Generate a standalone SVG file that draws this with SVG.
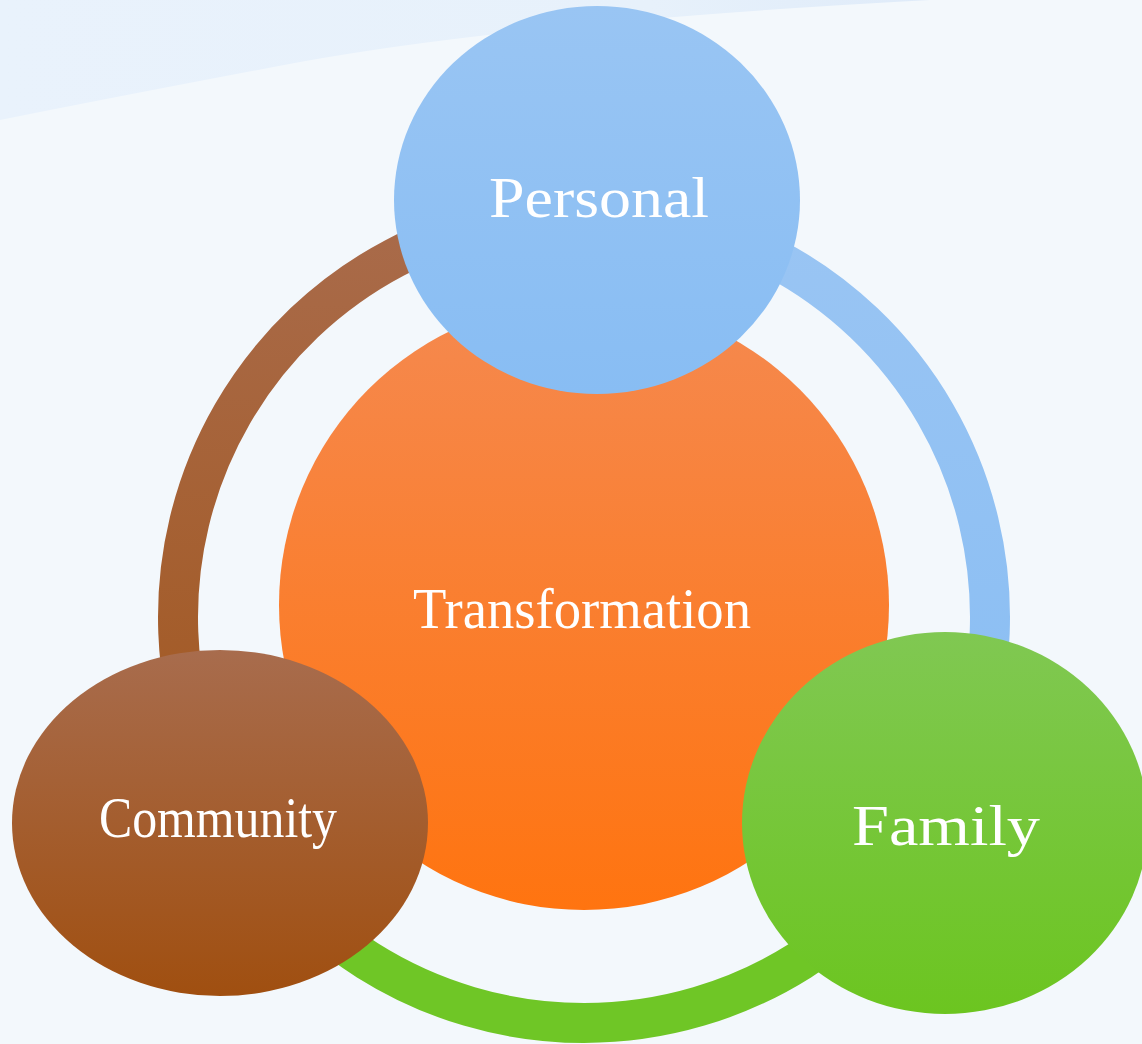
<svg xmlns="http://www.w3.org/2000/svg" width="1142" height="1044" viewBox="0 0 1142 1044">
  <defs>
    <linearGradient id="gBand" x1="0" y1="0" x2="1" y2="0">
      <stop offset="0" stop-color="#e9f2fc"/>
      <stop offset="0.7" stop-color="#e7f1fb"/>
      <stop offset="1" stop-color="#dfebf9"/>
    </linearGradient>
    <linearGradient id="gBlue" x1="0" y1="0" x2="0" y2="1">
      <stop offset="0" stop-color="#99c5f3"/>
      <stop offset="1" stop-color="#88bdf3"/>
    </linearGradient>
    <linearGradient id="gOrange" x1="0" y1="0" x2="0" y2="1">
      <stop offset="0" stop-color="#f5894f"/>
      <stop offset="1" stop-color="#ff7410"/>
    </linearGradient>
    <linearGradient id="gBrown" x1="0" y1="0" x2="0" y2="1">
      <stop offset="0" stop-color="#a86c4d"/>
      <stop offset="1" stop-color="#a04f10"/>
    </linearGradient>
    <linearGradient id="gGreen" x1="0" y1="0" x2="0" y2="1">
      <stop offset="0" stop-color="#80c852"/>
      <stop offset="1" stop-color="#6cc520"/>
    </linearGradient>
    <linearGradient id="gRingBrown" gradientUnits="userSpaceOnUse" x1="0" y1="210" x2="0" y2="830">
      <stop offset="0" stop-color="#a96b4b"/>
      <stop offset="1" stop-color="#a2571d"/>
    </linearGradient>
    <linearGradient id="gRingBlue" gradientUnits="userSpaceOnUse" x1="0" y1="210" x2="0" y2="830">
      <stop offset="0" stop-color="#9ac5f3"/>
      <stop offset="1" stop-color="#88bdf3"/>
    </linearGradient>
    <style>
      .ring { fill: none; stroke-width: 40; stroke-linecap: butt; }
      .label { font-family: "Liberation Serif", "DejaVu Serif", serif; font-size: 56px; fill: #ffffff; text-anchor: middle; }
    </style>
  </defs>

  <!-- page background with a pale diagonal band across the top-left -->
  <rect x="0" y="0" width="1142" height="1044" fill="#f3f8fc"/>
  <path d="M0,0 L930,0 Q520,22 300,62 Q130,94 0,120 Z" fill="url(#gBand)"/>

  <!-- ring segments joining the outer nodes -->
  <g id="connectors">
    <path class="ring" stroke="url(#gRingBrown)" d="M232.4,820 A406,406 0 0 1 584,211"/>
    <path class="ring" stroke="url(#gRingBlue)" d="M584,211 A406,406 0 0 1 935.6,820"/>
    <path class="ring" stroke="#6fc626" d="M935.6,820 A406,406 0 0 1 232.4,820"/>
  </g>

  <g id="node-transformation">
    <circle cx="584" cy="605" r="305" fill="url(#gOrange)"/>
    <text class="label" x="582" y="628" textLength="338" lengthAdjust="spacingAndGlyphs">Transformation</text>
  </g>

  <g id="node-personal">
    <ellipse cx="597" cy="200" rx="203" ry="194" fill="url(#gBlue)"/>
    <text class="label" x="599" y="217" textLength="220" lengthAdjust="spacingAndGlyphs">Personal</text>
  </g>

  <g id="node-community">
    <ellipse cx="220" cy="823" rx="208" ry="173" fill="url(#gBrown)"/>
    <text class="label" x="218" y="837" textLength="238" lengthAdjust="spacingAndGlyphs">Community</text>
  </g>

  <g id="node-family">
    <ellipse cx="945" cy="823" rx="203" ry="191" fill="url(#gGreen)"/>
    <text class="label" x="946" y="845" textLength="188" lengthAdjust="spacingAndGlyphs">Family</text>
  </g>
</svg>
